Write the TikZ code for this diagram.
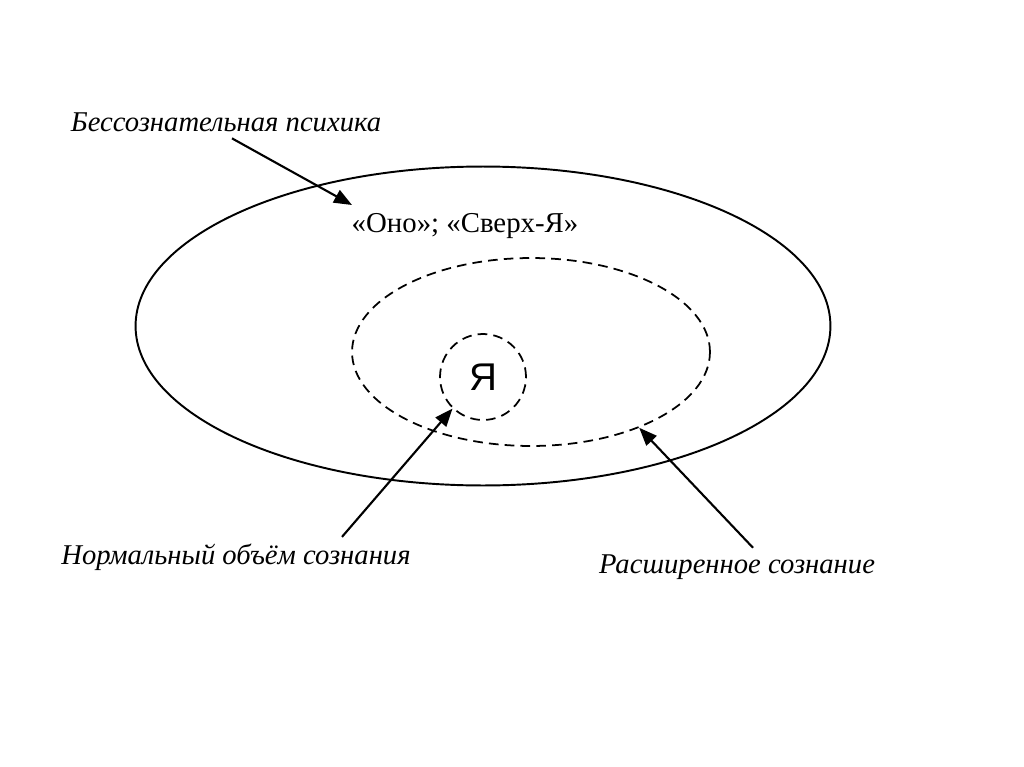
\documentclass[tikz,border=0pt]{standalone}
\usepackage{fontspec}
\setmainfont{Liberation Serif}
\newfontfamily\sansfont{Liberation Sans}
\usetikzlibrary{arrows.meta,calc,shapes.geometric}

\begin{document}
\begin{tikzpicture}[x=0.02cm, y=-0.02cm, line width=1.1pt,
  zone/.style={ellipse, draw, inner sep=0pt},
  dashline/.style={dash pattern=on 5.5pt off 3.5pt, line width=1pt},
  lbl/.style={font=\itshape\fontsize{16.3}{19}\selectfont},
  arr/.style={-{Triangle[length=3.6mm,width=2.8mm]}, line width=1.2pt}]
  \useasboundingbox (0,0) rectangle (1024,767);
  % the three zones
  \node[zone, minimum width=13.9cm, minimum height=6.38cm] (psyche) at (483,326) {};
  \node[zone, dashline, minimum width=7.16cm, minimum height=3.76cm] (wide) at (531,352) {};
  \node[zone, dashline, minimum width=1.72cm, minimum height=1.72cm,
        font=\sansfont\fontsize{22}{26}\selectfont] (ego) at (483,377) {Я};
  \node[font=\fontsize{16.4}{19}\selectfont] (id) at (465,226) {«Оно»; «Сверх-Я»};
  % labels
  \node[lbl] (unconsc) at (226,122) {Бессознательная психика};
  \node[lbl] (normal) at (236,557) {Нормальный объём сознания};
  \node[lbl] (expand) at (737,567) {Расширенное сознание};
  \coordinate (deep) at (352,205);
  \draw[arr] ($(unconsc.south)+(6,0)$) -- (deep);
  \draw[arr] ($(normal.north)+(106,0)$) -- (ego.-134);
  \draw[arr] ($(expand.north)+(16,0)$) -- (wide.-35);
\end{tikzpicture}
\end{document}
